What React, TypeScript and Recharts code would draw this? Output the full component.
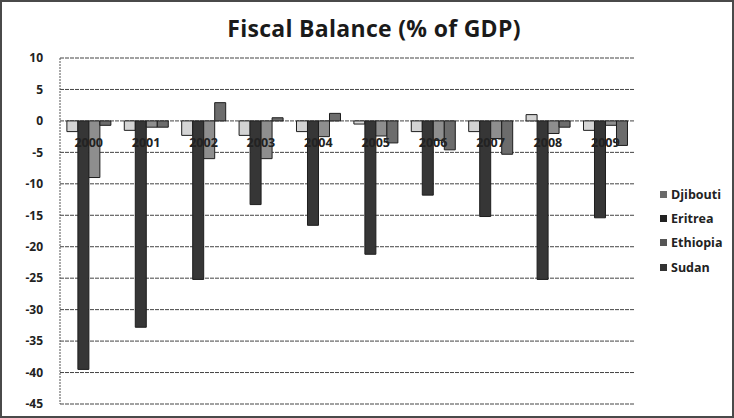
import React from 'react'
import { BarChart, Bar, XAxis, YAxis, CartesianGrid } from 'recharts'

// Fiscal balance, % of GDP
const years = ['2000', '2001', '2002', '2003', '2004', '2005', '2006', '2007', '2008', '2009']
const djibouti = [-1.7, -1.5, -2.3, -2.3, -1.7, -0.5, -1.7, -1.7, 1.0, -1.5]
const eritrea = [-39.5, -32.8, -25.2, -13.3, -16.6, -21.2, -11.8, -15.2, -25.2, -15.4]
const ethiopia = [-9.0, -1.0, -6.0, -6.0, -2.5, -2.4, -3.1, -2.8, -2.0, -0.7]
const sudan = [-0.7, -1.0, 2.9, 0.5, 1.2, -3.5, -4.6, -5.3, -1.0, -3.9]
const yTicks = [10, 5, 0, -5, -10, -15, -20, -25, -30, -35, -40, -45]

const series = [
  { key: 'Djibouti', fill: '#d4d4d4', icon: '#6a6a6a' },
  { key: 'Eritrea', fill: '#363636', icon: '#222222' },
  { key: 'Ethiopia', fill: '#8e8e8e', icon: '#555555' },
  { key: 'Sudan', fill: '#6c6c6c', icon: '#333333' },
]

const data = years.map((year, i) => ({
  year,
  Djibouti: djibouti[i],
  Eritrea: eritrea[i],
  Ethiopia: ethiopia[i],
  Sudan: sudan[i],
}))

const W = 734
const H = 418
const TOP = 58
const BOTTOM = 14
const Y_MAX = 10
const Y_MIN = -45
const FONT = '"Open Sans", "DejaVu Sans", sans-serif'

// x labels sit just under the zero line, like the original
const zeroY = TOP + ((H - TOP - BOTTOM) * Y_MAX) / (Y_MAX - Y_MIN)

function YearTick(props: any) {
  const { x, payload } = props
  return (
    <text x={x} y={zeroY + 26} textAnchor="middle" fontFamily={FONT} fontSize={12.5} fontWeight={700} fill="#222">
      {payload.value}
    </text>
  )
}

export default function App() {
  return (
    <div
      style={{
        position: 'absolute',
        left: 0,
        top: 0,
        width: W,
        height: H,
        background: '#fff',
        boxSizing: 'border-box',
        border: '2px solid #4a4a4a',
      }}
    >
      <div
        style={{
          position: 'absolute',
          left: 0,
          top: 10,
          width: 744,
          textAlign: 'center',
          fontFamily: FONT,
          fontWeight: 700,
          fontSize: 23,
          letterSpacing: 0.3,
          color: '#1a1a1a',
        }}
      >
        Fiscal Balance (% of GDP)
      </div>
      <div style={{ position: 'absolute', left: -2, top: -2 }}>
        <BarChart
          width={W}
          height={H}
          data={data}
          margin={{ top: TOP, right: 100, left: 0, bottom: 0 }}
          barCategoryGap="12%"
          barGap={0}
        >
          <CartesianGrid vertical={false} stroke="#444" strokeDasharray="4 1" />
          <XAxis dataKey="year" height={BOTTOM} axisLine={false} tickLine={false} tick={<YearTick />} interval={0} />
          <YAxis
            width={60}
            domain={[Y_MIN, Y_MAX]}
            ticks={yTicks}
            interval={0}
            tickLine={false}
            tickSize={0}
            tickMargin={17}
            axisLine={{ stroke: '#555', strokeDasharray: '2 1' }}
            tick={{ fontFamily: FONT, fontSize: 12, fontWeight: 700, fill: '#222' }}
          />
          {series.map((s) => (
            <Bar
              key={s.key}
              dataKey={s.key}
              fill={s.fill}
              stroke="#1e1e1e"
              strokeWidth={1}
              isAnimationActive={false}
            />
          ))}
        </BarChart>
      </div>
      <div
        style={{
          position: 'absolute',
          left: 658,
          top: 180,
          fontFamily: FONT,
          fontSize: 12.5,
          fontWeight: 700,
          color: '#222',
        }}
      >
        {series.map((s) => (
          <div key={s.key} style={{ display: 'flex', alignItems: 'center', height: 24.3 }}>
            <span style={{ display: 'inline-block', width: 7, height: 7, background: s.icon, marginRight: 4 }} />
            {s.key}
          </div>
        ))}
      </div>
    </div>
  )
}
